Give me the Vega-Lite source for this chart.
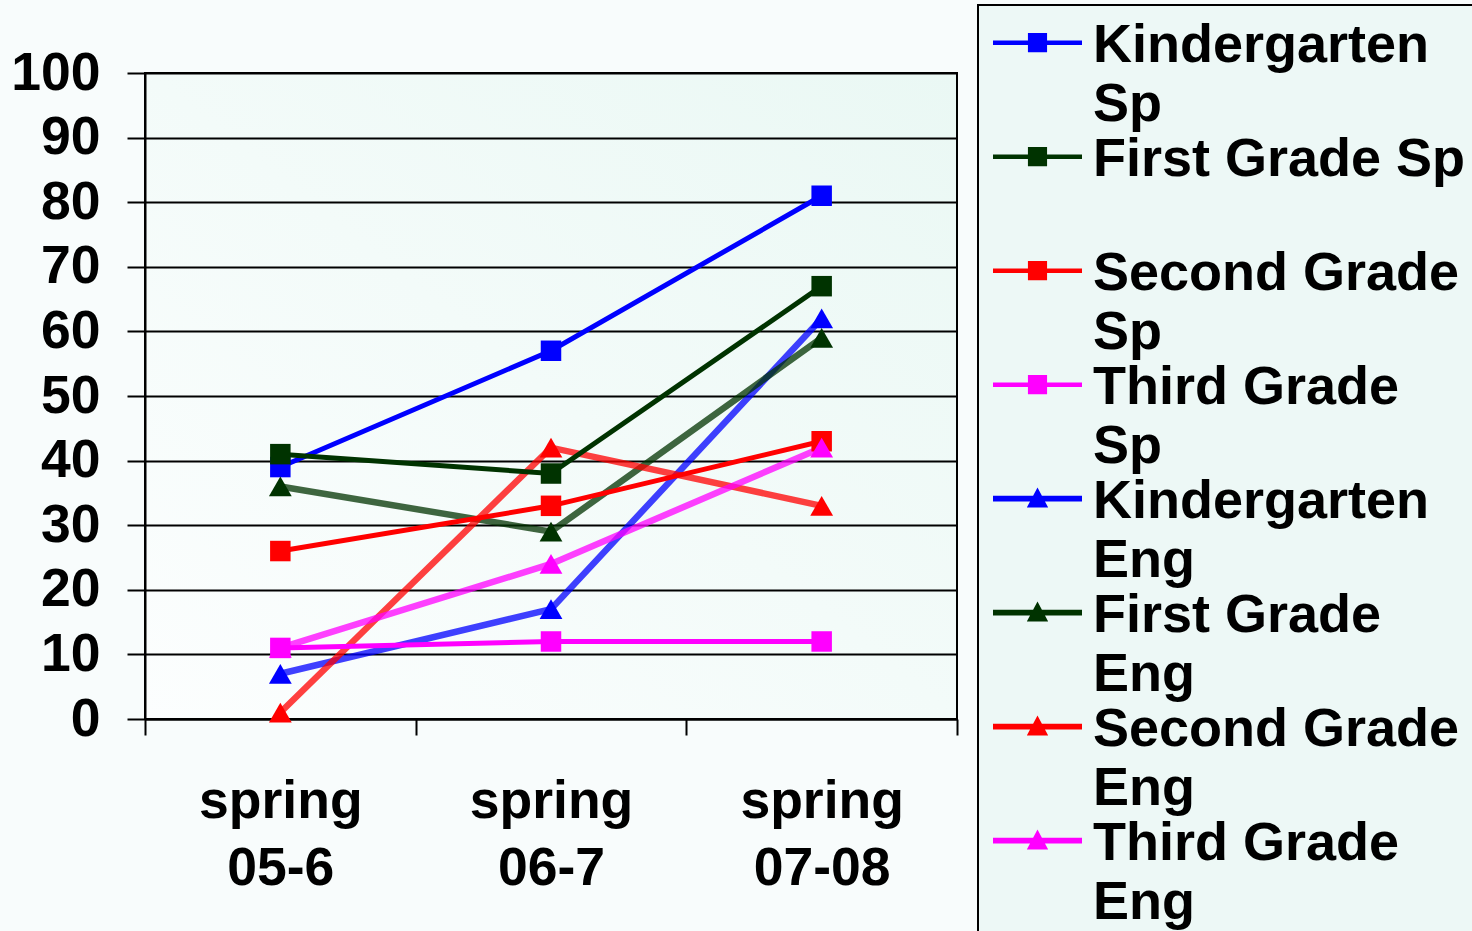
{
  "$schema": "https://vega.github.io/schema/vega-lite/v6.json",
  "autosize": {"type": "none"},
  "width": 812,
  "height": 646,
  "padding": {"left": 145, "top": 73, "right": 515, "bottom": 212},
  "background": "#F8FCFC",
  "config": {
    "view": {
      "stroke": "#000000",
      "strokeWidth": 2,
      "fill": {"gradient": "linear", "x1": 0, "y1": 1, "x2": 1, "y2": 0, "stops": [{"offset": 0, "color": "#FCFEFE"}, {"offset": 1, "color": "#EAF8F4"}]}
    },
    "font": "Liberation Sans",
    "style": {"guide-label": {"lineHeight": 59.5}},
    "axis": {
      "labelFont": "Liberation Sans",
      "labelFontSize": 53.5,
      "labelFontWeight": "bold",
      "labelColor": "#000000",
      "domainColor": "#000000",
      "domainWidth": 2,
      "tickColor": "#000000",
      "tickWidth": 2,
      "gridColor": "#000000",
      "gridWidth": 2,
      "gridOpacity": 1,
      "title": null
    },
    "legend": {
      "orient": "none",
      "legendX": 833,
      "legendY": -68,
      "padding": 23,
      "symbolOffset": -8,
      "fillColor": "#EDF8F6",
      "strokeColor": "#000000",
      "strokeWidth": 2,
      "symbolStrokeWidth": 0,
      "symbolSize": 7921,
      "symbolOpacity": 1,
      "labelFont": "Liberation Sans",
      "labelFontSize": 54,
      "labelFontWeight": "bold",
      "labelColor": "#000000",
      "labelBaseline": "bottom",
      "labelLimit": 1000,
      "labelOffset": 11,
      "rowPadding": 0
    }
  },
  "data": {
    "values": [
      {"period": "spring 05-6", "series": "Kindergarten Sp", "lang": "Sp", "value": 39},
      {"period": "spring 06-7", "series": "Kindergarten Sp", "lang": "Sp", "value": 57},
      {"period": "spring 07-08", "series": "Kindergarten Sp", "lang": "Sp", "value": 81},
      {"period": "spring 05-6", "series": "First Grade Sp", "lang": "Sp", "value": 41},
      {"period": "spring 06-7", "series": "First Grade Sp", "lang": "Sp", "value": 38},
      {"period": "spring 07-08", "series": "First Grade Sp", "lang": "Sp", "value": 67},
      {"period": "spring 05-6", "series": "Second Grade Sp", "lang": "Sp", "value": 26},
      {"period": "spring 06-7", "series": "Second Grade Sp", "lang": "Sp", "value": 33},
      {"period": "spring 07-08", "series": "Second Grade Sp", "lang": "Sp", "value": 43},
      {"period": "spring 05-6", "series": "Third Grade Sp", "lang": "Sp", "value": 11},
      {"period": "spring 06-7", "series": "Third Grade Sp", "lang": "Sp", "value": 12},
      {"period": "spring 07-08", "series": "Third Grade Sp", "lang": "Sp", "value": 12},
      {"period": "spring 05-6", "series": "Kindergarten Eng", "lang": "Eng", "value": 7},
      {"period": "spring 06-7", "series": "Kindergarten Eng", "lang": "Eng", "value": 17},
      {"period": "spring 07-08", "series": "Kindergarten Eng", "lang": "Eng", "value": 62},
      {"period": "spring 05-6", "series": "First Grade Eng", "lang": "Eng", "value": 36},
      {"period": "spring 06-7", "series": "First Grade Eng", "lang": "Eng", "value": 29},
      {"period": "spring 07-08", "series": "First Grade Eng", "lang": "Eng", "value": 59},
      {"period": "spring 05-6", "series": "Second Grade Eng", "lang": "Eng", "value": 1},
      {"period": "spring 06-7", "series": "Second Grade Eng", "lang": "Eng", "value": 42},
      {"period": "spring 07-08", "series": "Second Grade Eng", "lang": "Eng", "value": 33},
      {"period": "spring 05-6", "series": "Third Grade Eng", "lang": "Eng", "value": 11},
      {"period": "spring 06-7", "series": "Third Grade Eng", "lang": "Eng", "value": 24},
      {"period": "spring 07-08", "series": "Third Grade Eng", "lang": "Eng", "value": 42}
    ]
  },
  "encoding": {
    "x": {
      "field": "period",
      "type": "ordinal",
      "scale": {"type": "band", "domain": ["spring 05-6", "spring 06-7", "spring 07-08"], "paddingInner": 0, "paddingOuter": 0},
      "axis": {
        "labelAngle": 0,
        "tickBand": "extent",
        "tickSize": 16,
        "labelPadding": 40,
        "labelBaseline": "top",
        "labelLineHeight": 67,
        "labelExpr": "[substring(datum.label, 0, 6), substring(datum.label, 7)]",
        "grid": false
      }
    },
    "y": {
      "field": "value",
      "type": "quantitative",
      "scale": {"domain": [0, 100], "nice": false},
      "axis": {
        "values": [0, 10, 20, 30, 40, 50, 60, 70, 80, 90, 100],
        "tickSize": 18,
        "labelPadding": 27,
        "grid": true
      }
    }
  },
  "layer": [
    {
      "transform": [{"filter": "datum.lang == 'Eng'"}],
      "mark": {"type": "line", "strokeWidth": 6.5, "opacity": 0.75},
      "encoding": {
        "stroke": {
          "field": "series",
          "type": "nominal",
          "scale": {"range": ["#003300", "#003300", "#0000FF", "#0000FF", "#FF0000", "#FF0000", "#FF00FF", "#FF00FF"]},
          "legend": null
        }
      }
    },
    {
      "transform": [{"filter": "datum.lang == 'Sp'"}],
      "mark": {"type": "line", "strokeWidth": 5},
      "encoding": {
        "stroke": {
          "field": "series",
          "type": "nominal",
          "scale": {"range": ["#003300", "#003300", "#0000FF", "#0000FF", "#FF0000", "#FF0000", "#FF00FF", "#FF00FF"]},
          "legend": null
        }
      }
    },
    {
      "transform": [{"filter": "datum.lang == 'Sp'"}],
      "mark": {"type": "point", "shape": "square", "filled": true, "size": 420, "opacity": 1},
      "encoding": {
        "fill": {
          "field": "series",
          "type": "nominal",
          "scale": {"range": ["#003300", "#003300", "#0000FF", "#0000FF", "#FF0000", "#FF0000", "#FF00FF", "#FF00FF"]},
          "legend": null
        }
      }
    },
    {
      "transform": [{"filter": "datum.lang == 'Eng'"}],
      "mark": {"type": "point", "shape": "triangle-up", "filled": true, "size": 520, "opacity": 1},
      "encoding": {
        "fill": {
          "field": "series",
          "type": "nominal",
          "scale": {"range": ["#003300", "#003300", "#0000FF", "#0000FF", "#FF0000", "#FF0000", "#FF00FF", "#FF00FF"]},
          "legend": null
        }
      }
    },
    {
      "mark": {"type": "point", "filled": true, "opacity": 0},
      "encoding": {
        "color": {
          "field": "series",
          "type": "nominal",
          "scale": {
            "domain": ["Kindergarten Sp", "First Grade Sp", "Second Grade Sp", "Third Grade Sp", "Kindergarten Eng", "First Grade Eng", "Second Grade Eng", "Third Grade Eng"],
            "range": ["#0000FF", "#003300", "#FF0000", "#FF00FF", "#0000FF", "#003300", "#FF0000", "#FF00FF"]
          },
          "legend": {
            "title": null,
            "labelExpr": "datum.label == 'First Grade Sp' ? ['First Grade Sp', ' '] : [substring(datum.label, 0, lastindexof(datum.label, ' ')), substring(datum.label, lastindexof(datum.label, ' ') + 1)]"
          }
        },
        "shape": {
          "field": "series",
          "type": "nominal",
          "scale": {
            "domain": ["Kindergarten Sp", "First Grade Sp", "Second Grade Sp", "Third Grade Sp", "Kindergarten Eng", "First Grade Eng", "Second Grade Eng", "Third Grade Eng"],
            "range": [
              "M-1,-0.72H1V-0.62H-1Z M-0.215,-0.885H0.215V-0.455H-0.215Z",
              "M-1,-0.72H1V-0.62H-1Z M-0.215,-0.885H0.215V-0.455H-0.215Z",
              "M-1,-0.72H1V-0.62H-1Z M-0.215,-0.885H0.215V-0.455H-0.215Z",
              "M-1,-0.72H1V-0.62H-1Z M-0.215,-0.885H0.215V-0.455H-0.215Z",
              "M-1,-0.735H1V-0.605H-1Z M0,-0.92L0.24,-0.47H-0.24Z",
              "M-1,-0.735H1V-0.605H-1Z M0,-0.92L0.24,-0.47H-0.24Z",
              "M-1,-0.735H1V-0.605H-1Z M0,-0.92L0.24,-0.47H-0.24Z",
              "M-1,-0.735H1V-0.605H-1Z M0,-0.92L0.24,-0.47H-0.24Z"
            ]
          },
          "legend": {
            "title": null,
            "labelExpr": "datum.label == 'First Grade Sp' ? ['First Grade Sp', ' '] : [substring(datum.label, 0, lastindexof(datum.label, ' ')), substring(datum.label, lastindexof(datum.label, ' ') + 1)]"
          }
        }
      }
    }
  ]
}
